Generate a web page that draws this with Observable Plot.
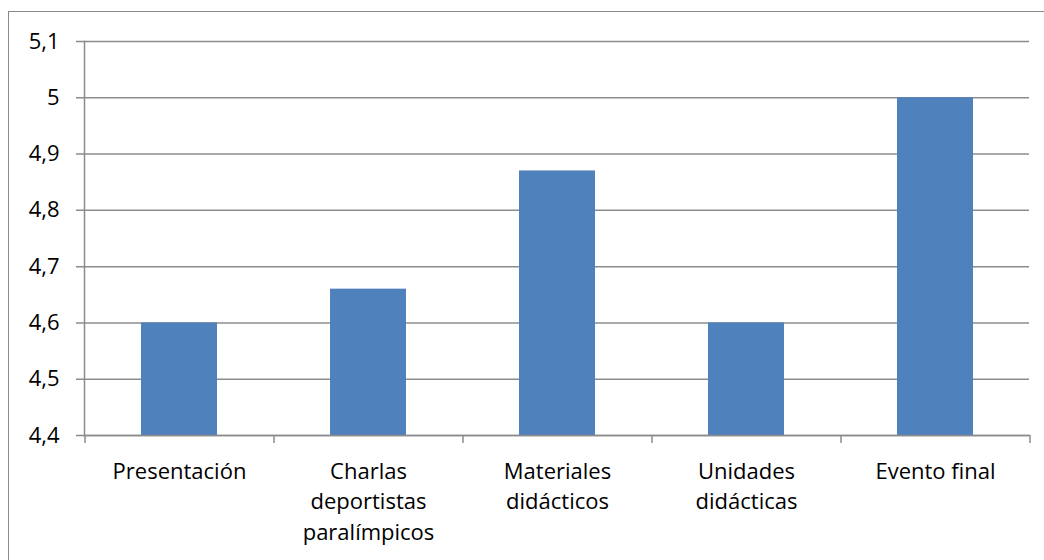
<!DOCTYPE html>
<html><head><meta charset="utf-8">
<script src="https://cdn.jsdelivr.net/npm/d3@7"></script>
<script src="https://cdn.jsdelivr.net/npm/@observablehq/plot@0.6"></script>
<style>
html,body{margin:0;padding:0;background:#fff;overflow:hidden;}
#wrap{position:relative;width:1044px;height:560px;overflow:hidden;}
#border{position:absolute;left:8px;top:11px;width:1100px;height:600px;border:1.5px solid #8a8a8a;box-sizing:border-box;pointer-events:none;}
</style></head>
<body><div id="wrap"><div id="border"></div></div>
<script>
const categories = ["Presentación","Charlas deportistas paralímpicos","Materiales didácticos","Unidades didácticas","Evento final"];
const labels = ["Presentación","Charlas\ndeportistas\nparalímpicos","Materiales\ndidácticos","Unidades\ndidácticas","Evento final"];
const values = [4.6, 4.66, 4.87, 4.6, 5.0];
const yTicks = [4.4, 4.5, 4.6, 4.7, 4.8, 4.9, 5.0, 5.1];
const yTickLabels = ["4,4","4,5","4,6","4,7","4,8","4,9","5","5,1"];

const W = 1044, H = 560, ML = 84, MR = 15, MT = 41, MB = 125;
const step = (W - ML - MR) / categories.length;
const plotH = H - MT - MB;
const data = categories.map((c, i) => ({cat: c, label: labels[i], value: values[i]}));
const font = "'Open Sans', sans-serif";
const gridColor = "#8c8c8c";

const chart = Plot.plot({
  width: W, height: H,
  marginLeft: ML, marginRight: MR, marginTop: MT, marginBottom: MB,
  style: {fontFamily: font, fontSize: "22px", color: "#000", background: "transparent"},
  x: {type: "band", domain: categories, paddingInner: 0.6, paddingOuter: 0.3, axis: null},
  y: {domain: [4.4, 5.1], axis: null},
  marks: [
    Plot.ruleY(yTicks, {y: d => d, stroke: gridColor, strokeWidth: 1.5, insetLeft: -8}),
    Plot.barY(data, {x: "cat", y1: 4.4, y2: "value", fill: "#4F81BD"}),
    Plot.frame({anchor: "left", stroke: gridColor, strokeWidth: 1.5}),
    Plot.frame({anchor: "bottom", stroke: gridColor, strokeWidth: 1.5}),
    Plot.ruleX(categories, {x: d => d, dx: -step / 2, stroke: gridColor, strokeWidth: 1.5, insetTop: plotH, insetBottom: -8}),
    Plot.ruleX([categories[categories.length - 1]], {x: d => d, dx: step / 2, stroke: gridColor, strokeWidth: 1.5, insetTop: plotH, insetBottom: -8}),
    Plot.text(yTicks, {y: d => d, text: (d, i) => yTickLabels[i], frameAnchor: "left", textAnchor: "end", dx: -25, fill: "#000", fontSize: 22}),
    Plot.text(data, {x: "cat", text: "label", frameAnchor: "bottom", lineAnchor: "top", dy: 22, lineHeight: 1.38, fill: "#000", fontSize: 22})
  ]
});
document.getElementById("wrap").prepend(chart);
</script>
</body></html>
